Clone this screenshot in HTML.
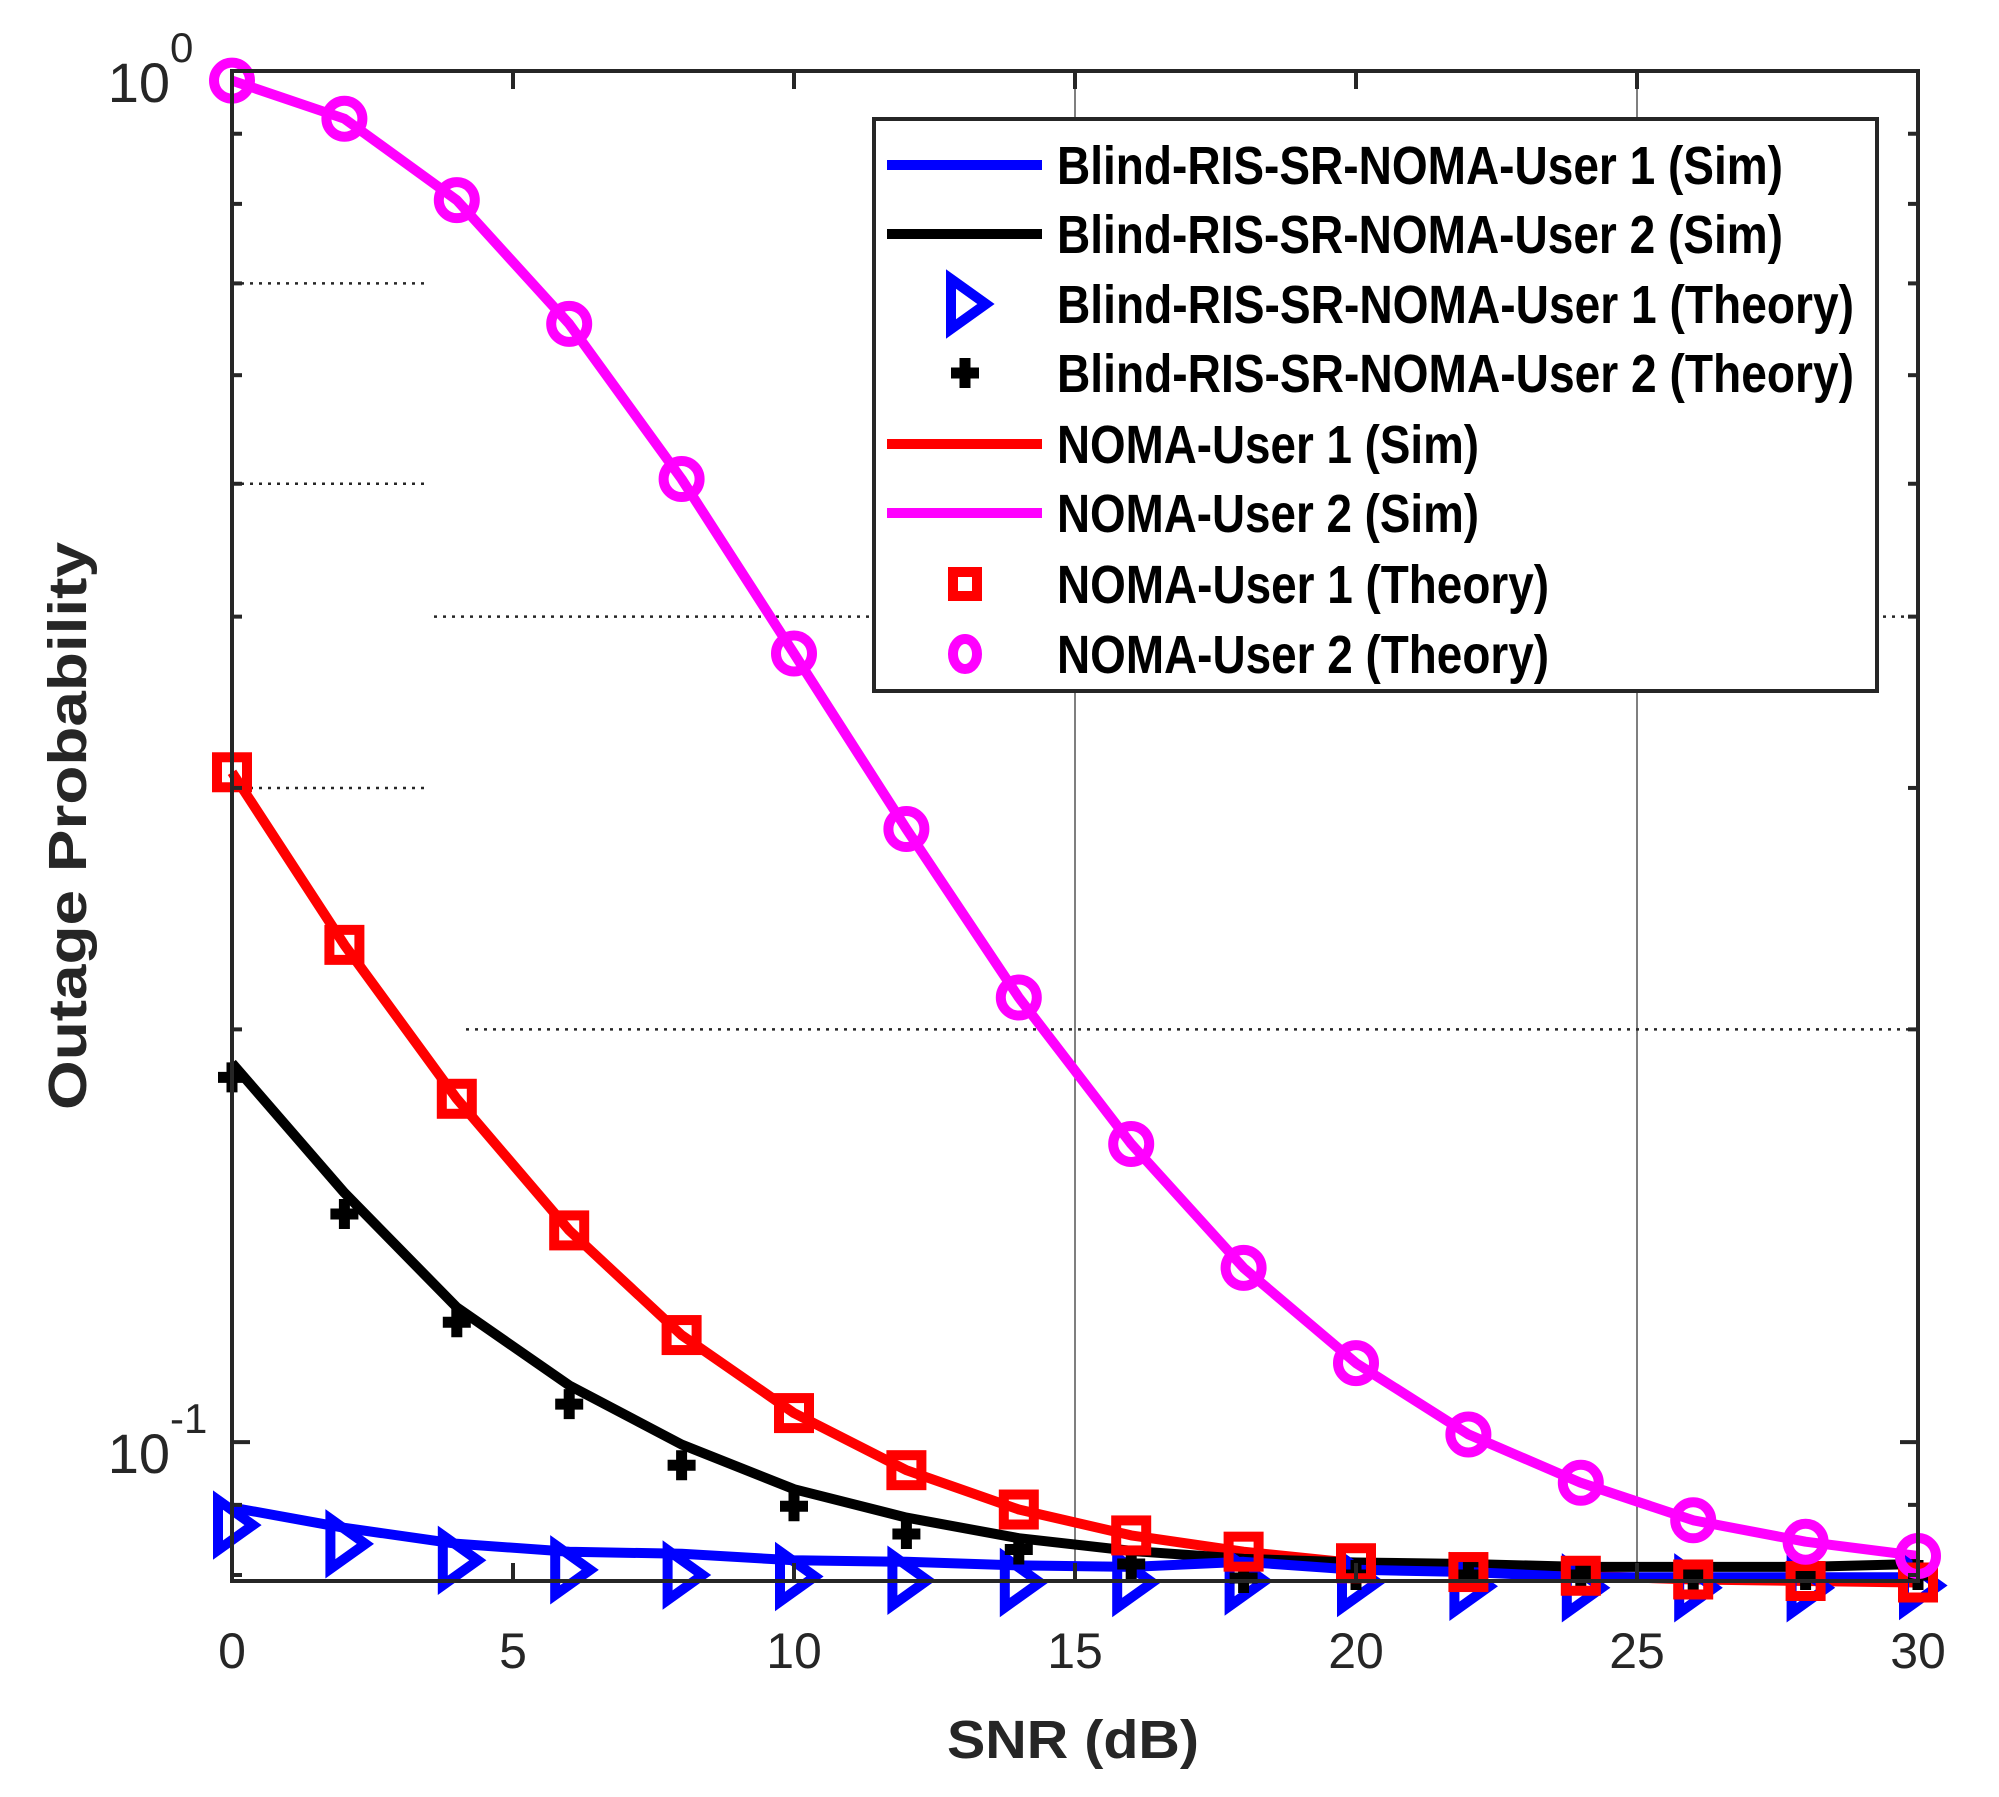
<!DOCTYPE html>
<html><head><meta charset="utf-8"><style>
html,body{margin:0;padding:0;background:#fff;}
svg{display:block;}
text{font-family:"Liberation Sans",sans-serif;fill:#262626;}
</style></head><body>
<svg id="chart" width="1999" height="1797" viewBox="0 0 1999 1797" xmlns="http://www.w3.org/2000/svg">
<rect width="1999" height="1797" fill="#fff"/>
<g id="grid"></g>
<g id="series"></g>
<g id="axes"></g>
<g id="legend"></g>
</svg>
<script>
const snr = [0,2,4,6,8,10,12,14,16,18,20,22,24,26,28,30];
const blindU1Sim = [0.0896,0.0866,0.0843,0.0832,0.0829,0.0820,0.0818,0.0813,0.0811,0.0818,0.0807,0.0804,0.0797,0.0797,0.0797,0.0797];
const blindU2Sim = [0.189,0.152,0.1254,0.110,0.0996,0.0924,0.0881,0.0851,0.0833,0.0822,0.0817,0.0815,0.0811,0.0811,0.0811,0.0815];
const blindU1Theory = [0.0870,0.0843,0.0820,0.0807,0.0800,0.0798,0.0793,0.0790,0.0790,0.0792,0.0790,0.0785,0.0783,0.0783,0.0783,0.0786];
const blindU2Theory = [0.1845,0.1467,0.1223,0.1066,0.0962,0.0898,0.0857,0.0835,0.0815,0.0796,0.0800,0.0800,0.0800,0.0800,0.0800,0.0800];
const nomaU1 = [0.308,0.2305,0.178,0.1427,0.1197,0.1050,0.0954,0.0893,0.0855,0.0832,0.0816,0.0804,0.0799,0.0794,0.0792,0.0790];
const nomaU2 = [0.984,0.923,0.805,0.654,0.504,0.376,0.280,0.211,0.165,0.134,0.1142,0.1013,0.0934,0.0877,0.0846,0.0826];
const xTicks = [0,5,10,15,20,25,30];
const yMinorTicks = [0.9,0.8,0.7,0.6,0.5,0.4,0.3,0.2,0.09,0.08];
const legendLabels = ["Blind-RIS-SR-NOMA-User 1 (Sim)","Blind-RIS-SR-NOMA-User 2 (Sim)","Blind-RIS-SR-NOMA-User 1 (Theory)","Blind-RIS-SR-NOMA-User 2 (Theory)","NOMA-User 1 (Sim)","NOMA-User 2 (Sim)","NOMA-User 1 (Theory)","NOMA-User 2 (Theory)"];

const NS="http://www.w3.org/2000/svg";
const L=232,R=1918,T=71,B=1581;
const yMin=Math.log10(0.0792), yMax=0;
const xs=v=>L+(v-0)/(30-0)*(R-L);
const ys=v=>T+(yMax-Math.log10(v))/(yMax-yMin)*(B-T);
function mk(tag,attrs,parent){const e=document.createElementNS(NS,tag);for(const k in attrs)e.setAttribute(k,attrs[k]);parent.appendChild(e);return e;}
const grid=document.getElementById('grid'),ser=document.getElementById('series'),ax=document.getElementById('axes'),leg=document.getElementById('legend');

[[15],[25]].forEach(v=>{const l=mk('line',{x1:xs(v[0]),x2:xs(v[0]),y1:T,y2:B,stroke:'#555','stroke-width':1.5},grid);

});
[[0.7,232,428],[0.5,232,428],[0.4,434,1918],[0.3,232,428],[0.2,466,1918]].forEach(g=>{const l=mk('line',{x1:g[1],x2:g[2],y1:ys(g[0]),y2:ys(g[0]),stroke:'#262626','stroke-width':2.5,'stroke-dasharray':'3 6'},grid);

});

function line(data,color,name){const p=data.map((v,i)=>(i?'L':'M')+xs(snr[i]).toFixed(1)+','+ys(v).toFixed(1)).join(' ');
const e=mk('path',{d:p,fill:'none',stroke:color,'stroke-width':10,'stroke-linejoin':'round'},ser);

}
function tri(cx,cy,parent){return mk('path',{d:`M${cx-14},${cy-25} L${cx+21},${cy} L${cx-14},${cy+25} Z`,fill:'none',stroke:'#0000ff','stroke-width':10},parent);}
function plus(cx,cy,parent){return mk('path',{d:`M${cx-14},${cy} H${cx+14} M${cx},${cy-15} V${cy+15}`,stroke:'#000','stroke-width':11},parent);}
function sq(cx,cy,parent){return mk('rect',{x:cx-15,y:cy-15,width:30,height:30,fill:'none',stroke:'#ff0000','stroke-width':10},parent);}
function circ(cx,cy,parent){return mk('circle',{cx:cx,cy:cy,r:18,fill:'none',stroke:'#ff00ff','stroke-width':10},parent);}

line(nomaU2,'#ff00ff','noma-user2-sim-line');
line(nomaU1,'#ff0000','noma-user1-sim-line');
line(blindU2Sim,'#000000','blind-user2-sim-line');
line(blindU1Sim,'#0000ff','blind-user1-sim-line');
blindU1Theory.forEach((v,i)=>{const m=tri(xs(snr[i]),ys(v),ser);

});
blindU2Theory.forEach((v,i)=>{const m=plus(xs(snr[i]),ys(v),ser);

});
nomaU1.forEach((v,i)=>{const m=sq(xs(snr[i]),ys(v),ser);

});
nomaU2.forEach((v,i)=>{const m=circ(xs(snr[i]),ys(v),ser);

});

const fr=mk('rect',{x:L,y:T,width:R-L,height:B-T,fill:'none',stroke:'#262626','stroke-width':4},ax);


xTicks.forEach(v=>{const x=xs(v);
mk('line',{x1:x,x2:x,y1:B,y2:B-18,stroke:'#262626','stroke-width':4},ax);
mk('line',{x1:x,x2:x,y1:T,y2:T+18,stroke:'#262626','stroke-width':4},ax);
const t=mk('text',{x:x,y:1668,'text-anchor':'middle','font-size':50},ax);t.textContent=v;

});
[1,0.1].forEach(v=>{const y=ys(v);
mk('line',{x1:L,x2:L+18,y1:y,y2:y,stroke:'#262626','stroke-width':4},ax);
mk('line',{x1:R,x2:R-18,y1:y,y2:y,stroke:'#262626','stroke-width':4},ax);});
yMinorTicks.forEach(v=>{const y=ys(v);
mk('line',{x1:L,x2:L+10,y1:y,y2:y,stroke:'#262626','stroke-width':4},ax);
mk('line',{x1:R,x2:R-10,y1:y,y2:y,stroke:'#262626','stroke-width':4},ax);});
function ylab(y,exp,name){const t=mk('text',{x:170,y:y+31,'text-anchor':'end','font-size':56},ax);t.textContent='10';


const s=mk('text',{x:170,y:y-9,'text-anchor':'start','font-size':42},ax);s.textContent=exp;

}
ylab(ys(1),'0','y-tick-label-1');
ylab(ys(0.1),'-1','y-tick-label-0.1');
const xl=mk('text',{x:1073,y:1758,'text-anchor':'middle','font-size':54,'font-weight':'bold',textLength:252,lengthAdjust:'spacingAndGlyphs'},ax);xl.textContent='SNR (dB)';


const yl=mk('text',{x:0,y:0,'text-anchor':'middle','font-size':54,'font-weight':'bold',textLength:568,lengthAdjust:'spacingAndGlyphs',transform:'translate(86,826) rotate(-90)'},ax);yl.textContent='Outage Probability';



const lb=mk('rect',{x:874,y:119,width:1003,height:572,fill:'#fff',stroke:'#262626','stroke-width':4},leg);


const rowY=[165,234,304,373,444,513,584,654];
const widths=[726,726,797,797,422,422,492,492];
legendLabels.forEach((lab,i)=>{const y=rowY[i];
const g=mk('g',{},leg);


if(i==0)mk('line',{x1:887,x2:1042,y1:y,y2:y,stroke:'#0000ff','stroke-width':10},g);
if(i==1)mk('line',{x1:887,x2:1042,y1:y,y2:y,stroke:'#000','stroke-width':10},g);
if(i==2)tri(965,y,g);
if(i==3)plus(965,y,g);
if(i==4)mk('line',{x1:887,x2:1042,y1:y,y2:y,stroke:'#ff0000','stroke-width':10},g);
if(i==5)mk('line',{x1:887,x2:1042,y1:y,y2:y,stroke:'#ff00ff','stroke-width':10},g);
if(i==6)mk('rect',{x:953,y:y-12,width:24,height:24,fill:'none',stroke:'#ff0000','stroke-width':10},g);
if(i==7)mk('ellipse',{cx:965,cy:y,rx:12,ry:15,fill:'none',stroke:'#ff00ff','stroke-width':10},g);
const t=mk('text',{x:1057,y:y+19,'font-size':54,'font-weight':'bold',fill:'#000',textLength:widths[i],lengthAdjust:'spacingAndGlyphs'},g);
t.setAttribute('style','fill:#000');t.textContent=lab;});
</script>
</body></html>
